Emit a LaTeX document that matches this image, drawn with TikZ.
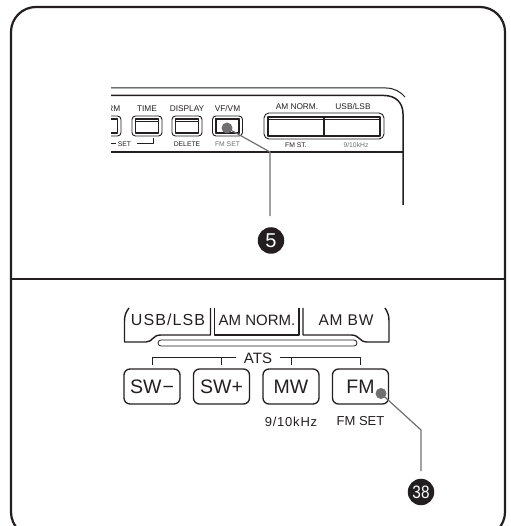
\documentclass[tikz,border=0pt]{standalone}
\usepackage{fontspec}
\setmainfont{Liberation Sans}
\usetikzlibrary{positioning}
\definecolor{inkblack}{RGB}{35,31,32}
\definecolor{leadergray}{RGB}{112,112,114}
\tikzset{
    smallkey/.style={draw=inkblack, line width=0.9pt, rounded corners=3.5pt, minimum width=30pt, minimum height=20pt, inner sep=0pt},
    smallkeyface/.style={draw=inkblack, line width=1.3pt, minimum width=23pt, minimum height=14pt, inner sep=0pt},
    wideface/.style={draw=inkblack, line width=1.3pt, minimum width=56pt, minimum height=19pt, inner sep=0pt},
    bigkey/.style={draw=inkblack, line width=1.3pt, rounded corners=6pt, minimum width=56pt, minimum height=35pt, inner sep=0pt, font=\fontsize{19.5}{21}\selectfont, text=inkblack},
    smalltext/.style={inner sep=0pt, text=inkblack, font=\fontsize{8.3}{9}\selectfont},
    graytext/.style={inner sep=0pt, text=leadergray, font=\fontsize{6.8}{8}\selectfont},
    darktext/.style={inner sep=0pt, text=inkblack, font=\fontsize{6.8}{8}\selectfont},
    keytext/.style={inner sep=0pt, text=inkblack, font=\fontsize{15}{17}\selectfont},
    subtext/.style={inner sep=0pt, text=inkblack, font=\fontsize{13}{15}\selectfont},
    pointdot/.style={circle, fill=leadergray, minimum size=11pt, inner sep=0pt},
    badge/.style={circle, fill=inkblack, text=white, minimum size=26.5pt, inner sep=0pt},
    leader/.style={draw=leadergray, line width=1.2pt},
    bracketline/.style={draw=inkblack, line width=1pt}
}
\begin{document}
\begin{tikzpicture}[line join=round]
    \useasboundingbox (0pt, 0pt) rectangle (510pt, 526pt);
    % Frame
    \draw[inkblack, line width=2.2pt, rounded corners=25pt] (11pt, -11pt) rectangle (505pt, 519pt);
    \draw[inkblack, line width=2pt] (11pt, 246.5pt) -- (505pt, 246.5pt);
    % Radio outline
    \draw[inkblack, line width=1pt] (111pt, 438pt) -- (386pt, 438pt) .. controls (394pt, 438pt) and (401pt, 434pt) .. (405pt, 429pt);
    \draw[inkblack, line width=1.5pt] (111pt, 430.5pt) -- (384pt, 430.5pt) .. controls (396pt, 430.5pt) and (403pt, 423pt) .. (403pt, 412pt) -- (403pt, 321pt);
    \draw[inkblack, line width=1.1pt] (111pt, 374pt) -- (403pt, 374pt);
    % Cut off key
    \begin{scope}
        \clip (111pt, 370pt) rectangle (130pt, 425pt);
        \node[smallkey] (alarmkey) at (106pt, 400pt) {};
        \node[smallkeyface] (alarmface) at (106pt, 400pt) {};
        \node[smalltext, anchor=east] (alarmtext) at (120.5pt, 417pt) {RM};
    \end{scope}
    % Small keys
    \foreach \keyname/\keyx/\keytext in {
        time/147pt/TIME,
        display/187pt/DISPLAY,
        vfvm/227.5pt/{VF/VM}} {
        \node[smallkey] (\keyname key) at (\keyx, 400pt) {};
        \node[smallkeyface] (\keyname face) at (\keyx, 400pt) {};
        \node[smalltext] (\keyname text) at (\keyx, 417pt) {\keytext};
    }
    \foreach \keyname in {time, display} {
        \draw[inkblack, line width=0.6pt] (\keyname face.north west) ++(0pt, -3pt) -- ++(23pt, 0pt);
    }
    \node[smallkeyface, line width=2.2pt] (vfvmdark) at (227.5pt, 400pt) {};
    % Wide keys
    \node[smallkey, minimum width=120pt, minimum height=26pt, rounded corners=5pt] (widekey) at (324pt, 400pt) {};
    \node[wideface] (amface) at (296pt, 399.5pt) {};
    \node[wideface] (usbface) at (352pt, 399.5pt) {};
    \draw[inkblack, line width=0.6pt] (amface.north west) ++(0pt, -3pt) -- ++(112pt, 0pt);
    \node[smalltext] (amtext) at (297pt, 419pt) {AM NORM.};
    \node[smalltext] (usbtext) at (353pt, 419pt) {USB/LSB};
    % Texts under the keys
    \node[darktext] (settext) at (124.5pt, 382pt) {SET};
    \node[darktext] (deletetext) at (187pt, 382pt) {DELETE};
    \node[graytext] (fmsettext) at (227.5pt, 382pt) {FM SET};
    \node[darktext] (fmsttext) at (296pt, 381pt) {FM ST.};
    \node[graytext] (khztext) at (356pt, 381pt) {9/10kHz};
    \draw[inkblack, line width=1pt] (111pt, 382pt) -- (116pt, 382pt);
    \draw[inkblack, line width=1pt] (137pt, 382pt) -- (153.5pt, 382pt) -- (153.5pt, 387.5pt);
    % Pointer 5
    \node[pointdot] (dotfive) at (227pt, 398pt) {};
    \coordinate (bendfive) at (270pt, 374pt);
    \node[badge, font=\fontsize{20}{21}\selectfont] (badgefive) at (271pt, 285.5pt) {5};
    \draw[leader, shorten >=11pt] (dotfive.center) -- (bendfive) -- (bendfive |- badgefive.north);
    % Upper keys of the lower panel
    \draw[inkblack, line width=1.4pt] (129pt, 218pt) .. controls (126pt, 214pt) and (124.5pt, 211pt) .. (124.5pt, 205pt) -- (124.5pt, 184pt) -- (146pt, 184pt) .. controls (153pt, 184pt) and (152pt, 191pt) .. (161pt, 191pt) -- (210.5pt, 191pt) -- (210.5pt, 218pt);
    \draw[inkblack, line width=1.4pt] (214.5pt, 218pt) -- (214.5pt, 191pt) -- (299pt, 191pt) -- (299pt, 218pt);
    \draw[inkblack, line width=1.4pt] (303pt, 218pt) -- (303pt, 191pt) -- (351pt, 191pt) .. controls (360pt, 191pt) and (359pt, 184pt) .. (367pt, 184pt) -- (389pt, 184pt) -- (389pt, 205pt) .. controls (389pt, 211pt) and (387.5pt, 214pt) .. (385pt, 218pt);
    \node[keytext, font=\fontsize{16}{18}\selectfont\addfontfeature{LetterSpace=7}] (usblsb) at (168pt, 206pt) {USB/LSB};
    \node[keytext] (amnorm) at (257pt, 206pt) {AM NORM.};
    \node[keytext, font=\fontsize{15.5}{18}\selectfont\addfontfeature{LetterSpace=5}] (ambw) at (346pt, 206pt) {AM BW};
    \node[draw=inkblack, line width=0.8pt, rounded corners=3pt, minimum width=199pt, minimum height=6pt, inner sep=0pt] (slot) at (257.5pt, 183pt) {};
    % Lower keys
    \foreach \keyname/\keyx/\keytext in {
        swminus/152pt/SW\hspace{1pt}\textminus,
        swplus/221.5pt/SW+,
        mw/291pt/MW,
        fm/360.5pt/FM} {
        \node[bigkey] (\keyname) at (\keyx, 139.5pt) {\keytext};
    }
    \node[subtext, font=\fontsize{13}{15}\selectfont\addfontfeature{LetterSpace=6}] (khzlabel) [below=12pt of mw] {9/10kHz};
    \node[subtext] (fmsetlabel) [below=12pt of fm] {FM SET};
    % ATS bracket
    \node[keytext, inner xsep=7.5pt] (ats) at (258pt, 168pt) {ATS};
    \draw[bracketline, shorten >=3pt] (ats) -| (swminus.north);
    \draw[bracketline, shorten >=3pt] (ats) -| (fm.north);
    \draw[bracketline, shorten >=3pt] (swplus.north |- ats) -- (swplus.north);
    \draw[bracketline, shorten >=3pt] (mw.north |- ats) -- (mw.north);
    % Pointer 38
    \node[pointdot] (dotfm) at (381pt, 132.5pt) {};
    \coordinate (bendfm) at (421pt, 96pt);
    \node[badge, font=\fontsize{18}{19}\selectfont] (badgefm) at (421pt, 34pt) {\scalebox{0.85}[1]{38}};
    \draw[leader, shorten >=7.5pt] (dotfm.center) -- (bendfm) -- (bendfm |- badgefm.north);
\end{tikzpicture}
\end{document}
